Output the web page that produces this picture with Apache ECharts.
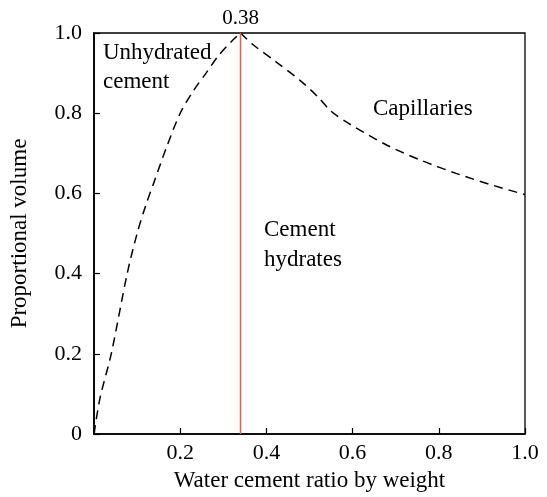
<!DOCTYPE html>
<html>
<head>
<meta charset="utf-8">
<script src="https://cdn.jsdelivr.net/npm/echarts@6/dist/echarts.min.js"></script>
<style>
  html, body { margin: 0; padding: 0; background: #fff; }
  #chart { width: 547px; height: 497px; }
</style>
</head>
<body>
<div id="chart"></div>
<script>
// volume curve (water/cement ratio, proportional volume)
const unhydratedCurve = [
  [0, 0], [0.014, 0.09], [0.04, 0.2], [0.077, 0.4], [0.1, 0.5], [0.12, 0.57],
  [0.14, 0.63], [0.17, 0.72], [0.2, 0.8], [0.23, 0.855], [0.26, 0.9],
  [0.29, 0.945], [0.32, 0.98], [0.34, 1.0]
];
const capillaryCurve = [
  [0.34, 1.0], [0.37, 0.97], [0.42, 0.93], [0.48, 0.88], [0.52, 0.84],
  [0.55, 0.805], [0.59, 0.775], [0.68, 0.72], [0.76, 0.682], [0.84, 0.65],
  [0.92, 0.622], [1.0, 0.597]
];
const criticalRatio = 0.34;
const criticalLabel = "0.38";

const serif = "Liberation Serif";
const chart = echarts.init(document.getElementById("chart"));

chart.setOption({
  animation: false,
  backgroundColor: "#fff",
  grid: {
    left: 94, right: 22, top: 33, bottom: 62,
    show: true, borderColor: "#000", borderWidth: 1.3
  },
  xAxis: {
    type: "value", min: 0, max: 1, interval: 0.2,
    name: "Water cement ratio by weight",
    nameLocation: "middle", nameGap: 35,
    nameTextStyle: { fontFamily: serif, fontSize: 23, color: "#000" },
    axisLine: { lineStyle: { color: "#000", width: 1.5 } },
    axisTick: { inside: true, length: 6, lineStyle: { color: "#000", width: 1.2 } },
    axisLabel: {
      fontFamily: serif, fontSize: 22, color: "#000", margin: 8,
      formatter: v => (v === 0 ? "" : v.toFixed(1))
    },
    splitLine: { show: false }
  },
  yAxis: {
    type: "value", min: 0, max: 1, interval: 0.2,
    name: "Proportional volume",
    nameLocation: "middle", nameGap: 63,
    nameTextStyle: { fontFamily: serif, fontSize: 23, color: "#000" },
    axisLine: { lineStyle: { color: "#000", width: 1.8 } },
    axisTick: { inside: true, length: 6, lineStyle: { color: "#000", width: 1.2 } },
    axisLabel: {
      fontFamily: serif, fontSize: 22, color: "#000", margin: 12,
      formatter: v => (v === 0 ? "0" : v.toFixed(1))
    },
    splitLine: { show: false }
  },
  series: [
    {
      type: "line", data: unhydratedCurve, smooth: 0.3, symbol: "none",
      lineStyle: { color: "#000", width: 1.5, type: [9, 6] }
    },
    {
      type: "line", data: capillaryCurve, smooth: 0.3, symbol: "none",
      lineStyle: { color: "#000", width: 1.5, type: [9, 6] }
    },
    {
      type: "line", symbol: "none",
      data: [[criticalRatio, 0], [criticalRatio, 1]],
      lineStyle: { color: "#e8604c", width: 1.6 },
      markPoint: {
        symbol: "circle", symbolSize: 0,
        data: [{ coord: [criticalRatio, 1] }],
        label: {
          show: true, position: "top", distance: 4, formatter: criticalLabel,
          fontFamily: serif, fontSize: 21, color: "#000"
        }
      }
    }
  ],
  graphic: [
    {
      type: "text", left: 103, top: 38,
      style: { text: "Unhydrated\ncement", fontFamily: serif, fontSize: 23, lineHeight: 29, fill: "#000" }
    },
    {
      type: "text", left: 373, top: 97,
      style: { text: "Capillaries", fontFamily: serif, fontSize: 23, fill: "#000" }
    },
    {
      type: "text", left: 264, top: 215,
      style: { text: "Cement\nhydrates", fontFamily: serif, fontSize: 23, lineHeight: 30, fill: "#000" }
    }
  ]
});
</script>
</body>
</html>
